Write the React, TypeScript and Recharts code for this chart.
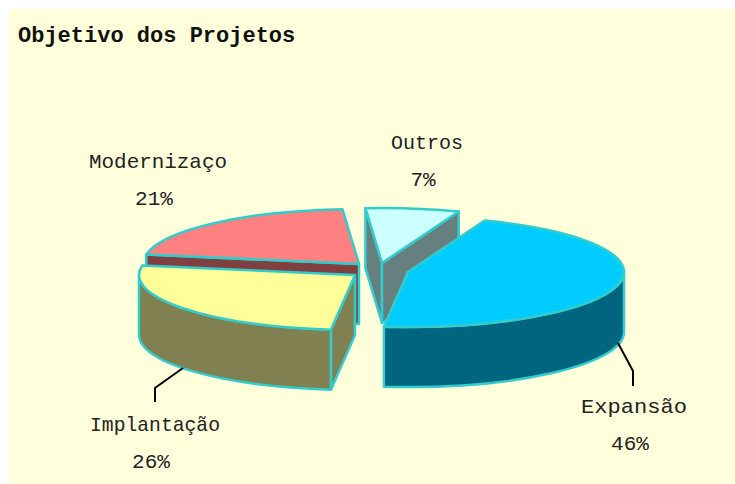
import React from 'react';
import { PieChart, Pie } from 'recharts';

// draw order is back to front: Modernização and Outros sit behind the other two
const categories = ['Modernizaço', 'Outros', 'Expansão', 'Implantação'];
const shares = [21, 7, 46, 26];

const pieData = categories.map((name, i) => ({ name, value: shares[i] }));

const TOPS = ['#FF8080', '#CCFFFF', '#00CCFF', '#FFFF99'];
const WALLS = ['#804040', '#668080', '#006680', '#808050'];
const EDGE = '#33CCCC';

// how far each slice is pulled out of the nominal centre
const EXPLODE: [number, number][] = [[-21, -4], [2, -5], [28, 4], [-25, 7]];
// label anchors relative to the nominal centre
const LABEL_POS: [number, number][] = [[-222, -100], [47, -119], [254, 145], [-225, 163]];
const LABEL_WIDTHS = [138, 72, 106, 130];
const LEADERS: ([number, number][] | null)[] = [
  null,
  null,
  [[238, 75], [253, 103], [253, 118]],
  [[-197, 100], [-225, 120], [-225, 134]],
];

const CX = 380;
const CY = 268;
const RX = 216;
const RY = 55;
const DEPTH = 60;
const RAD = Math.PI / 180;

function Slice3D(props: any) {
  const { startAngle, endAngle, index } = props;
  let a1 = -startAngle;
  let a2 = -endAngle;
  while (a1 >= 270) {
    a1 -= 360;
    a2 -= 360;
  }
  while (a1 < -90) {
    a1 += 360;
    a2 += 360;
  }
  const [ox, oy] = EXPLODE[index];
  const x0 = props.cx + ox;
  const y0 = props.cy + oy;
  const pt = (deg: number, dy = 0) =>
    `${x0 + RX * Math.cos(deg * RAD)} ${y0 + RY * Math.sin(deg * RAD) + dy}`;
  const large = a2 - a1 > 180 ? 1 : 0;

  const walls: string[] = [];
  if (Math.cos(a1 * RAD) < 0) {
    walls.push(`M${x0} ${y0}L${pt(a1)}L${pt(a1, DEPTH)}L${x0} ${y0 + DEPTH}Z`);
  }
  if (Math.cos(a2 * RAD) > 0) {
    walls.push(`M${x0} ${y0}L${pt(a2)}L${pt(a2, DEPTH)}L${x0} ${y0 + DEPTH}Z`);
  }
  const from = Math.max(a1, 0);
  const to = Math.min(a2, 180);
  if (to > from) {
    walls.push(
      `M${pt(from)}A${RX} ${RY} 0 0 1 ${pt(to)}L${pt(to, DEPTH)}A${RX} ${RY} 0 0 0 ${pt(from, DEPTH)}Z`,
    );
  }

  return (
    <g>
      {walls.map((d, i) => (
        <path key={i} d={d} fill={WALLS[index]} stroke={EDGE} strokeWidth={2.5} strokeLinejoin="round" />
      ))}
      <path
        d={`M${x0} ${y0}L${pt(a1)}A${RX} ${RY} 0 ${large} 1 ${pt(a2)}Z`}
        fill={TOPS[index]}
        stroke={EDGE}
        strokeWidth={2.5}
        strokeLinejoin="round"
      />
    </g>
  );
}

const labelStyle = { fontFamily: '"Liberation Mono", monospace', fontSize: 21, fill: '#222' };

function SliceLabel(props: any) {
  const { index, name, value } = props;
  const [lx, ly] = LABEL_POS[index];
  const leader = LEADERS[index];
  return (
    <g>
      {leader && (
        <polyline
          points={leader.map(([x, y]) => `${CX + x},${CY + y}`).join(' ')}
          fill="none"
          stroke="#000"
          strokeWidth={2}
        />
      )}
      <text
        x={CX + lx}
        y={CY + ly}
        textAnchor="middle"
        textLength={LABEL_WIDTHS[index]}
        lengthAdjust="spacingAndGlyphs"
        {...labelStyle}
      >
        {name}
      </text>
      <text x={CX + lx - 4} y={CY + ly + 37} textAnchor="middle" {...labelStyle}>
        {value}%
      </text>
    </g>
  );
}

export default function App() {
  return (
    <div style={{ position: 'fixed', left: 0, top: 0, width: 735, height: 484, background: '#fff' }}>
      <div style={{ position: 'absolute', left: 9, top: 9, width: 726, height: 475, background: '#FFFFDC' }} />
      <div style={{ position: 'absolute', left: 0, top: 0 }}>
        <PieChart width={735} height={484} margin={{ top: 0, right: 0, bottom: 0, left: 0 }}>
          <text
            x={18}
            y={42}
            fontFamily='"Liberation Mono", monospace'
            fontWeight={700}
            fontSize={22}
            fill="#111"
          >
            Objetivo dos Projetos
          </text>
          <Pie
            data={pieData}
            dataKey="value"
            nameKey="name"
            cx={CX}
            cy={CY}
            innerRadius={0}
            outerRadius={RX}
            startAngle={-190}
            endAngle={-550}
            paddingAngle={0}
            isAnimationActive={false}
            shape={Slice3D}
            label={SliceLabel}
            labelLine={false}
          />
        </PieChart>
      </div>
    </div>
  );
}
